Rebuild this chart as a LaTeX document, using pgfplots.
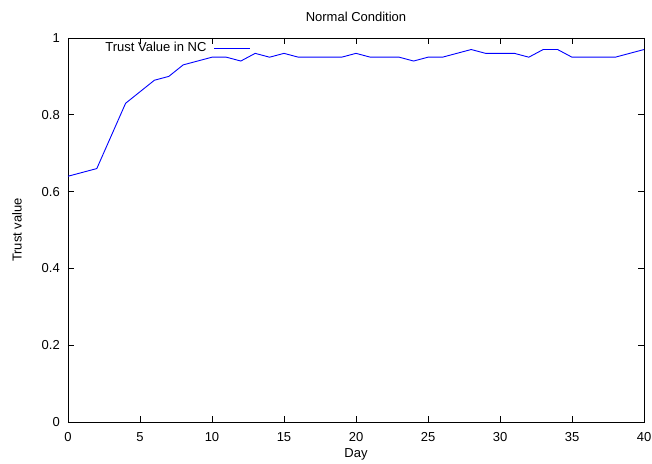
\documentclass[border=0pt]{standalone}
\usepackage{fontspec}
\setmainfont{Liberation Sans}
\usepackage{pgfplots}
\pgfplotsset{compat=1.18}
\begin{document}
\fontsize{13}{15.5}\selectfont
\begin{tikzpicture}
\begin{axis}[
  name=ax, scale only axis, width=576pt, height=384pt,
  xmin=0, xmax=40, ymin=0, ymax=1,
  xtick={0,5,10,15,20,25,30,35,40},
  ytick={0,0.2,0.4,0.6,0.8,1},
  tick align=inside, major tick length=6pt, tick pos=both,
  axis line style={line width=0.8pt},
  every tick/.style={black, line width=0.8pt},
  /pgf/number format/assume math mode=true,
  yticklabel style={/pgf/number format/fixed, /pgf/number format/precision=1, inner sep=0pt, anchor=east, xshift=-8pt},
  xticklabel style={inner sep=0pt, anchor=center, yshift=-15pt},
  title={Normal Condition},
  every axis title/.style={at={(axis description cs:0.5,1)}, anchor=center, yshift=21pt},
  xlabel={Day},
  every axis x label/.style={at={(axis description cs:0.5,0)}, anchor=center, yshift=-32pt},
  ylabel={Trust value},
  every axis y label/.style={at={([xshift=-51pt]axis description cs:0,0.5)}, anchor=center, rotate=90},
  legend style={at={(axis description cs:0.061,0.974)}, anchor=west, draw=none, fill=none, inner sep=0pt},
  legend cell align=right, legend plot pos=right,
  legend image code/.code={\draw[#1, draw=none] (0pt,0pt) -- (6pt,0pt); \draw[#1] (6pt,0pt) -- (42pt,0pt);},
]
\addplot[blue, line width=0.9pt] coordinates {
(0,0.64)(2,0.66)(4,0.83)(5,0.86)(6,0.89)(7,0.90)(8,0.93)(9,0.94)(10,0.95)(11,0.95)(12,0.94)(13,0.96)(14,0.95)(15,0.96)(16,0.95)(17,0.95)(18,0.95)(19,0.95)(20,0.96)(21,0.95)(22,0.95)(23,0.95)(24,0.94)(25,0.95)(26,0.95)(27,0.96)(28,0.97)(29,0.96)(30,0.96)(31,0.96)(32,0.95)(33,0.97)(34,0.97)(35,0.95)(36,0.95)(37,0.95)(38,0.95)(39,0.96)(40,0.97)
};
\addlegendentry{Trust Value in NC}
\end{axis}
\pgfresetboundingbox
\path[use as bounding box] ([shift={(-68pt,-41pt)}]ax.south west) rectangle ([shift={(584pt,422pt)}]ax.south west);
\end{tikzpicture}
\end{document}
